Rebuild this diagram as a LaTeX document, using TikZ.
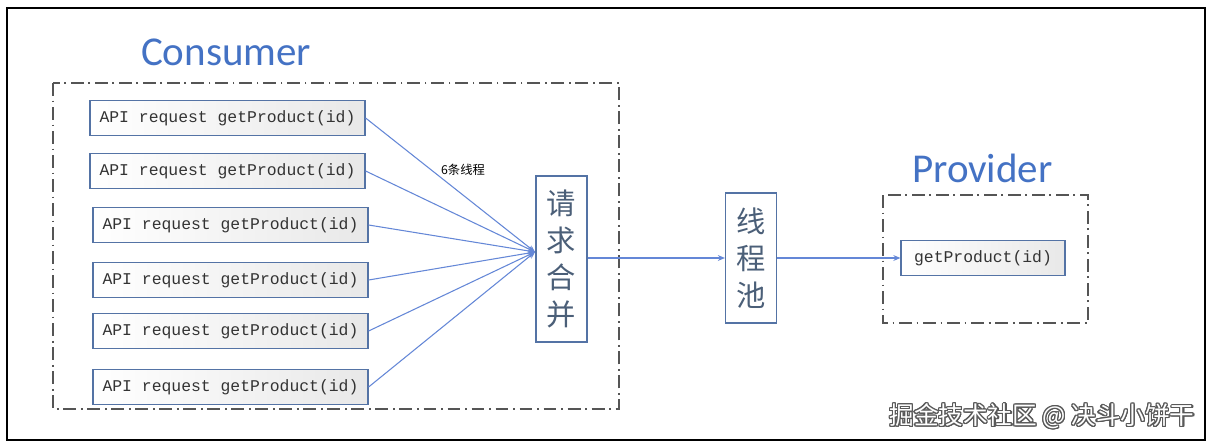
\documentclass[tikz,border=0pt]{standalone}
\usepackage{fontspec}
\setmainfont{Carlito}
\setmonofont{Liberation Mono}
\newfontfamily\cjk{Noto Sans CJK SC}
\usepackage[copies]{contour}
\contourlength{0.05em}
\usetikzlibrary{arrows.meta}

\definecolor{boxblue}{RGB}{84,115,165}
\definecolor{lineblue}{RGB}{100,135,215}
\definecolor{titleblue}{RGB}{68,114,196}
\definecolor{zonegray}{RGB}{85,85,85}
\definecolor{cjkgray}{RGB}{75,95,120}

\begin{document}
\begin{tikzpicture}[x=0.03cm,y=-0.03cm,
  req/.style={draw=boxblue,line width=1pt,left color=white,right color=black!9,
    minimum height=1.05cm,inner sep=0pt,text=black!80,
    font=\ttfamily\fontsize{14}{16}\selectfont},
  vbox/.style={draw=boxblue,line width=1pt,fill=white,minimum width=1.53cm,
    inner sep=0pt,align=center,text=cjkgray,font=\cjk\fontsize{25}{31.5}\selectfont},
  zone/.style={draw=zonegray,line width=1.8pt,dash pattern=on 11pt off 4pt on 1.5pt off 4pt},
  link/.style={draw=lineblue,line width=0.9pt,-{Stealth[length=6pt,width=5pt]}}]
  \useasboundingbox (0,0) rectangle (1211,446);
  \fill[white] (0,0) rectangle (1211,446);
  % outer frame
  \draw[line width=2.2pt] (7,8) rectangle (1205,440);
  % consumer side
  \draw[zone] (53,83) rectangle (619,409);
  \node[anchor=base west,text=titleblue,font=\fontsize{35}{40}\selectfont] (consumer) at (137,65) {Consumer};
  \node[req,minimum width=8.25cm] (r1) at (227.5,118) {API request getProduct(id)};
  \node[req,minimum width=8.25cm] (r2) at (227.5,171) {API request getProduct(id)};
  \node[req,minimum width=8.25cm] (r3) at (230.5,225) {API request getProduct(id)};
  \node[req,minimum width=8.25cm] (r4) at (230.5,280) {API request getProduct(id)};
  \node[req,minimum width=8.25cm] (r5) at (230.5,331) {API request getProduct(id)};
  \node[req,minimum width=8.25cm] (r6) at (230.5,387) {API request getProduct(id)};
  \node[font=\cjk\fontsize{10.5}{12}\selectfont] (threads) at (463,170) {6条线程};
  \node[vbox,minimum height=4.98cm] (merge) at (561.5,259) {请\\求\\合\\并};
  \coordinate (join) at (535,252);
  \foreach \i in {1,...,6}
    \draw[link] (r\i.east) -- (join);
  % thread pool
  \node[vbox,minimum height=3.9cm] (pool) at (751,258) {线\\程\\池};
  \draw[link] (merge.east |- pool.west) -- (pool.west);
  % provider side
  \draw[zone] (883,195) rectangle (1088,323);
  \node[anchor=base west,text=titleblue,font=\fontsize{35}{40}\selectfont] (provider) at (908,182) {Provider};
  \node[req,minimum width=4.92cm] (gp) at (983,258) {getProduct(id)};
  \draw[link] (pool.east) -- (gp.west);
  % watermark
  \node[font=\cjk\fontsize{21}{24}\selectfont] (mark) at (1042,417)
    {\contour{black!65}{\textcolor{white}{掘金技术社区 @ 决斗小饼干}}};
\end{tikzpicture}
\end{document}
